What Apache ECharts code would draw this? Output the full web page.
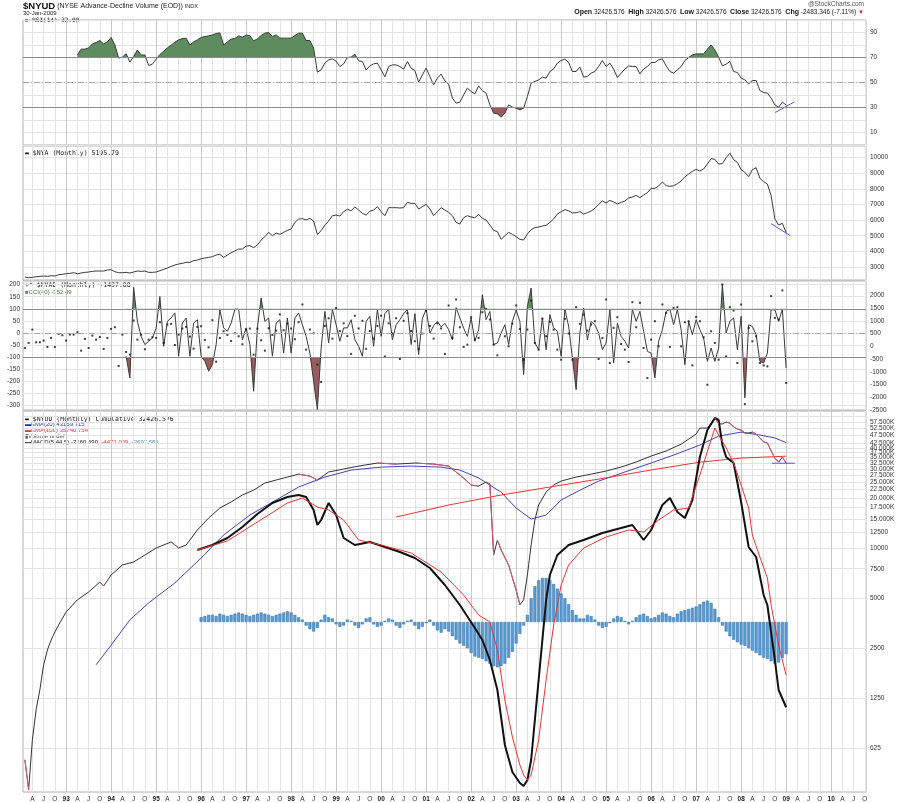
<!DOCTYPE html>
<html><head><meta charset="utf-8">
<script src="https://cdn.jsdelivr.net/npm/echarts/dist/echarts.min.js"></script>
<style>html,body{margin:0;padding:0;background:#fff}#c{width:900px;height:803px}</style>
</head><body><div id="c"></div><script>
// month index: 0 = Jan 1992 ... 204 = Jan 2009 (data begins Feb 1992)
const rsiStart = 15;
const rsi = [72.1,76.7,76.7,77.7,80.9,82,83.6,80.9,82.5,86,80,69.5,70.3,73,66.3,70.8,76,72,72,63.6,64.7,68.7,72.4,75,77.7,79.9,82.3,84.1,85.2,85.5,80,82.5,84.1,86,86.8,87.3,88.1,89.2,89.7,80,82.5,84.7,85.2,87.3,86.3,87.9,87.6,83.3,84.9,87.6,89.5,90,86.8,88.1,85.5,85.5,85.5,85.5,87.6,89.5,89.5,83.6,83.6,77.5,58.3,60.1,65.5,68.1,68.9,67.1,62.8,64.9,70,70.3,72.7,67.3,66.8,60.1,63.3,64.9,65.5,60.1,54.5,62.8,64.1,64.1,62.8,60.7,66.8,61.5,59.6,50.3,56.1,61.5,54.8,48.1,53.5,56.7,51.3,48.7,37.5,33.5,34.3,40.1,45.5,42.8,40.9,47.3,43.5,41.5,32.1,25.5,24.9,22.3,25.5,32.1,30.3,29.5,28.1,29.5,38.8,49.5,50.8,52.1,54.3,53.5,58.8,60.9,65.5,67.6,68.7,66,58.8,58.8,62.3,54.3,54.8,57.5,58.8,62.8,67.6,62.8,65.5,60.7,54,57.5,60.7,63.3,62.8,62.8,56.9,60.7,62.8,66,66,68.1,68.9,63.3,58.8,57.5,60.1,62.8,67.6,70,72.1,72.9,72.9,72.9,76.7,80.1,76.1,70.3,63.3,64.7,66.8,58.8,58,53.5,52.1,48.9,51.6,51.6,43.6,42,41.5,37.5,32.1,30.3,34.3,32];
const nyaStart = 1;
const nya = [2352,2309,2330,2373,2394,2416,2394,2437,2416,2501,2522,
2565,2587,2629,2565,2608,2651,2672,2715,2736,2736,2736,2800,
2822,2693,2629,2629,2651,2608,2672,2736,2715,2736,2651,2651,
2672,2758,2843,2929,3035,3121,3185,3228,3292,3292,3399,3441,
3527,3570,3612,3655,3762,3805,3612,3762,3912,4018,4146,4146,
4339,4360,4232,4403,4723,4937,5215,5001,5172,5087,5215,5343,
5429,5856,6070,6091,6006,6113,5942,5087,5322,5685,5942,6284,
6326,6262,6540,6690,6604,6839,6647,6433,6326,6562,6647,6861,
6540,6284,6797,6797,6797,6775,6797,7138,7074,7074,6711,6861,
7010,6711,6284,6540,6797,6647,6497,6284,5856,5749,6155,6284,
6198,6155,6369,6113,6006,5685,5343,5258,4766,5001,5215,5087,
4937,4766,4723,5108,5386,5514,5557,5621,5664,5856,6070,6391,
6540,6668,6604,6455,6476,6540,6391,6476,6583,6754,7010,7224,
7096,7267,7160,7032,7138,7224,7416,7480,7587,7438,7609,7758,
8036,8036,8186,8442,8207,8164,8207,8335,8506,8763,8955,9126,
9254,9147,9275,9596,9938,9895,9596,9617,10002,10280,9874,9703,
9233,9062,8784,9233,9361,8677,8463,8314,7566,6070,5685,5792,5196];
const cciStart = 28;
const cci = [-96,-186,189,48,-14,-48,-34,-21,20,151,-55,48,62,83,-96,41,62,-96,41,55,
-96,-117,-158,-131,-48,96,21,7,41,98,98,-28,21,-48,-241,21,145,48,62,-96,
41,55,-83,62,-83,62,83,34,-14,-83,-200,-316,-62,89,-41,98,34,-34,21,21,
55,-28,-55,-96,48,69,-55,98,-14,80,98,-28,34,55,80,98,-48,80,-89,60,
98,0,30,48,25,40,14,
-28,105,62,20,-14,62,-34,14,158,55,89,-48,-41,0,34,-48,48,95,48,-172,
110,186,-41,-69,62,-69,76,21,7,-96,98,28,-103,-234,0,103,-28,48,34,0,
-69,-41,98,-124,41,-14,-34,-62,98,48,89,7,-76,-83,-186,-34,14,89,98,34,
98,14,-131,48,-7,55,14,-21,-117,-62,-117,-62,200,0,48,62,-69,69,-268,34,
27,-7,-117,-124,-83,96,96,48,98,-145];
const nyadStart = 1;
const nyad = [-66,131,656,157,157,223,-26,328,-26,485,433,223,459,459,551,-171,289,-66,420,262,
367,-105,328,682,748,-774,459,-223,-328,1010,262,459,-118,262,354,328,945,131,853,879,
52,459,695,761,380,-92,761,787,249,-39,1023,-603,328,590,446,210,512,394,79,656,
695,-328,695,
236,-171,708,446,616,1252,630,892,695,276,945,1640,-131,656,511,-721,-1400,800,1100,300,
1500,600,900,400,-300,1200,700,1000,-100,600,300,800,1200,-400,900,500,1100,-500,1000,1300,
600,200,-100,500,1400,800,300,900,700,-300,1600,
328,1837,748,-26,66,1141,262,328,1338,1469,1050,66,-354,null,394,0,892,1601,682,-525,
656,1797,131,-131,1089,394,958,656,-131,-525,1076,499,-525,1535,879,1246,617,853,984,-499,
328,1837,-656,722,1141,92,-131,-617,1732,748,1706,-66,-1246,262,984,0,1640,1312,-26,1509,
1535,0,945,984,-748,1155,984,354,-1509,590,131,-525,2427,-394,1535,1404,-656,1640,-2270,722,
197,394,-656,-748,-787,1968,1115,1050,2191,-1437];
const cumM = [1,2,3,4,5,6,7,8,9,10,12,15,18,21,22,24,27,30,33,36,40,42,44,47,50,53,56,59,62,65,68,71,74,77,79,82,86,90,95,100,105,110,114,116,118,120,122,124,125,126,127,128,130,132,133,134,135,136,137,138,140,142,144,148,152,156,160,164,168,172,176,180,181,183,185,186,187,188,189,190,191,192,193,194,195,196,197,198,199,200,201,202,203,204];
const cumV = [530,350,700,1060,1400,1980,2430,2790,3120,3440,4120,4870,5430,6240,5900,6880,7900,8240,9070,10000,10870,10000,10420,12840,15150,17410,18940,20850,22300,24620,25670,26740,27860,27100,25670,28690,29900,31150,32490,32030,32490,32030,31150,28690,26390,23930,23600,24960,24290,9070,11170,9720,7900,5580,4540,4870,6880,10420,14750,18150,21740,23930,25310,26740,27860,29080,30740,32950,35790,38420,42220,48580,52780,52780,60630,55900,55900,57400,56500,53620,52000,51340,49250,49250,49950,48560,45950,43580,42920,38420,34820,32900,35300,32427];
const ema20M = [20,24,29,34,41,48,54,61,68,74,81,88,96,104,112,117,122,128,132,136,140,144,149,154,161,168,174,181,186,192,197,201,204];
const ema20V = [1980,2600,3690,4670,6160,8700,11970,15800,19450,23300,26740,29480,30700,31150,30700,29480,26400,21700,17400,14950,15800,19450,22300,25300,28700,32500,36300,41700,47200,49900,47900,46000,43160];
const ema100M = [100,114,128,141,154,168,181,192,204];
const ema100V = [15370,18150,20850,23300,26000,29500,32900,34800,35740];
const macdM = [47,51,55,59,63,67,71,74,76,78,79,80,82,84,86,89,93,97,101,105,109,113,117,121,123,125,127,129,131,133,134,135,136,137,138,139,140,141,143,146,150,155,160,163,166,168,171,173,175,177,179,181,183,185,186,187,188,190,192,194,196,198,199,201,202,204];
const macdV = [6048,6468,7056,7980,9072,9996,10500,10668,10500,9408,8148,8568,9996,8988,7056,6468,6720,6300,5880,5376,4536,3108,1428,-504,-1512,-3192,-5712,-10332,-12600,-13524,-13776,-13272,-11592,-8232,-4872,-1512,1848,3948,5628,6468,6888,7476,7896,8148,6888,7728,9828,10416,9240,8736,10248,13860,16128,17136,16968,14868,13860,13356,10080,6300,5460,2268,1428,-3192,-5712,-7161];
const sigM = [47,55,63,71,75,79,82,86,90,96,104,112,118,122,125,127,129,131,133,134,135,136,138,140,142,144,146,150,156,162,166,170,174,178,181,185,186,188,190,192,194,195,197,199,200,202,204];
const sigV = [6048,6804,8400,9996,10416,9660,9408,8568,6888,6468,5796,4200,2268,588,0,-2352,-6552,-9660,-12012,-12852,-13272,-12852,-9912,-4872,-252,3108,4788,6216,7140,7728,7560,8568,9408,9576,12348,16296,15708,14616,13356,11508,9576,7308,5460,3696,1428,-1932,-4471];
const histStart = 48;
const hist = [400,500,600,600,500,700,600,500,600,700,800,700,600,500,600,700,800,700,600,500,600,700,800,900,800,600,400,200,
-300,-600,-800,-500,200,600,400,
300,-200,-400,-300,200,100,-300,-500,-200,300,400,-200,-400,-300,100,300,200,-300,-500,-200,100,200,-300,-600,-400,-100,200,-300,-700,-900,-600,
-800,-1200,-1500,-1800,-2000,
-2200,-2600,-2900,-3000,-3100,-3300,-3500,-3700,-3800,-3700,-3500,-3000,-2500,-1800,-1000,-300,600,2000,3000,3500,3700,3700,3500,3200,2800,2400,2000,1500,1000,600,300,
300,600,500,200,-300,-500,-400,-100,300,500,400,100,-200,100,400,600,700,500,300,400,
600,800,700,500,400,700,900,1000,1100,1200,1300,1500,1700,1800,1600,1100,400,
-300,-800,-1200,-1500,-1700,-1900,-2000,-2200,-2400,-2600,-2800,-3000,-3100,-3300,-3500,-3400,-3000,-2697];
// trend lines drawn on the chart
const rsiTrend = [[201.1,26],[206.2,34.5]];
const nyaTrend = [[200,5771],[205.1,5001]];
const cumTrend = [[200.2,32400],[206.3,32400]];
// tick values
const rsiTicks = [10,30,50,70,90];
const nyaTicks = [3000,4000,5000,6000,7000,8000,9000,10000];
const cciTicks = [-300,-250,-200,-150,-100,-50,0,50,100,150,200];
const nyadTicks = [-2500,-2000,-1500,-1000,-500,0,500,1000,1500,2000];
const logTicks = [625,1250,2500,5000,7500,10000,12500,15000,17500,20000,22500,25000,27500,30000,32500,35000,37500,40000,42500,47500,52500,57500,62500];
const quarterLetters = {3:'A',6:'J',9:'O'};
const monthTicks = []; for (let m = 3; m <= 225; m += 3) monthTicks.push(m);

const pairs = (start, arr) => arr.map((v, i) => [start + i, v]);
const zip = (ms, vs) => ms.map((m, i) => [m, vs[i]]);
// falling segments of the cumulative line are drawn red
function downSegments(pts) {
  const out = [];
  for (let i = 1; i < pts.length; i++) {
    if (pts[i][1] < pts[i-1][1]) {
      const last = out.length ? out[out.length - 1] : null;
      if (!last || last[0] !== pts[i-1][0]) {
        if (out.length) out.push([pts[i-1][0] - 0.01, null]);
        out.push(pts[i-1]);
      }
      out.push(pts[i]);
    }
  }
  return out;
}

const FONT = 'Liberation Sans';
const LINE = '#3a3a3a';
const GREEN = '#5e8c5e';
const RED = '#9a5c5c';
const L = 23, R = 34;

const grids = [
  {left:L, right:R, top:20, height:125},
  {left:L, right:R, top:146, height:134},
  {left:L, right:R, top:281, height:129},
  {left:L, right:R, top:411, height:381},
  {left:L, right:R, top:20, height:37.5},
  {left:L, right:R, top:107.5, height:37.5},
  {left:L, right:R, top:281, height:27.8},
  {left:L, right:R, top:357.2, height:52.8}
].map((g, i) => Object.assign({show: i < 4, borderColor:'#b0b0b0', borderWidth:1}, g));

function xAx(i, showLabels) {
  const main = i < 4;
  return {
    type:'value', gridIndex:i, min:0.5, max:225.3,
    axisLine:{show:false}, axisTick:{show:false, customValues: monthTicks},
    splitLine:{show: main, lineStyle:{color:['#e3e3e3','#e3e3e3','#e3e3e3','#c9c9c9'], width:1}},
    axisLabel:{show: showLabels, customValues: monthTicks, fontSize:6.5, fontFamily:FONT, color:'#333', margin:4,
      formatter: v => { const q = v % 12; if (q === 0) { const y = (92 + v/12) % 100; return '{b|' + String(y).padStart(2,'0') + '}'; } return quarterLetters[q]; },
      rich:{b:{fontWeight:'bold', fontSize:6.5, fontFamily:FONT, color:'#222'}}}
  };
}
const xAxes = [0,1,2,3,4,5,6,7].map(i => xAx(i, i === 3));

const lab = {fontSize:6.5, fontFamily:FONT, color:'#333', margin:4};
const plain = v => String(v);
const yAxes = [
  {type:'value', gridIndex:0, position:'right', min:0, max:100, interval:10,
    axisLine:{show:false}, axisTick:{show:false},
    axisLabel:Object.assign({formatter: v => rsiTicks.includes(v) ? String(v) : ''}, lab),
    splitLine:{lineStyle:{color:'#e3e3e3'}}},
  {type:'value', gridIndex:1, position:'right', min:2161, max:10750,
    axisLine:{show:false}, axisTick:{show:false, customValues:nyaTicks},
    axisLabel:Object.assign({customValues:nyaTicks, formatter:plain}, lab),
    splitLine:{lineStyle:{color:'#e3e3e3'}}},
  {type:'value', gridIndex:2, position:'left', min:-318.2, max:214.9,
    axisLine:{show:false}, axisTick:{show:false, customValues:cciTicks},
    axisLabel:Object.assign({customValues:cciTicks, formatter:plain}, lab, {margin:3}),
    splitLine:{lineStyle:{color:'#e3e3e3'}}},
  {type:'value', gridIndex:2, position:'right', min:-2500, max:2562,
    axisLine:{show:false}, axisTick:{show:false, customValues:nyadTicks},
    axisLabel:Object.assign({customValues:nyadTicks, formatter:plain}, lab),
    splitLine:{show:false}},
  {type:'log', logBase:2, gridIndex:3, position:'right', min:339, max:66870,
    axisLine:{show:false}, axisTick:{show:false, customValues:logTicks},
    axisLabel:Object.assign({customValues:logTicks, formatter: v => v >= 15000 ? (v/1000).toFixed(3) + 'K' : String(v)}, lab),
    splitLine:{lineStyle:{color:'#e3e3e3'}}},
  {type:'value', gridIndex:3, show:false, min:-14280, max:17724, splitLine:{show:false}},
  {type:'value', gridIndex:4, show:false, min:70, max:100},
  {type:'value', gridIndex:5, show:false, min:0, max:30},
  {type:'value', gridIndex:6, show:false, min:100, max:214.9},
  {type:'value', gridIndex:7, show:false, min:-318.2, max:-100}
];

const ml = (vals) => ({silent:true, symbol:'none', label:{show:false}, animation:false,
  data: vals.map(([v, dash]) => ({yAxis:v, lineStyle:{color: dash ? '#a8a8a8' : '#8c8c8c', width:1, type: dash ? [6,2,1,2] : 'solid'}}))});

const rsiData = pairs(rsiStart, rsi);
const cciData = pairs(cciStart, cci);
const cumData = zip(cumM, cumV);
const fillSeries = (data, xi, yi, color, origin) => ({type:'line', xAxisIndex:xi, yAxisIndex:yi, data, symbol:'none',
  lineStyle:{opacity:0, width:0}, areaStyle:{color, opacity:1, origin}, clip:true, silent:true, z:1});
const plainLine = (data, xi, yi, color, width, z) => ({type:'line', xAxisIndex:xi, yAxisIndex:yi, data, symbol:'none', lineStyle:{color, width}, z: z || 3});

const series = [
  fillSeries(rsiData, 4, 6, GREEN, 'start'),
  fillSeries(rsiData, 5, 7, RED, 'end'),
  Object.assign(plainLine(rsiData, 0, 0, LINE, 1), {markLine: ml([[70,false],[30,false],[50,true]])}),
  plainLine(rsiTrend, 0, 0, '#5555ee', 1, 4),
  plainLine(pairs(nyaStart, nya), 1, 1, LINE, 1),
  plainLine(nyaTrend, 1, 1, '#5555ee', 1, 4),
  fillSeries(cciData, 6, 8, GREEN, 'start'),
  fillSeries(cciData, 7, 9, RED, 'end'),
  Object.assign(plainLine(cciData, 2, 2, LINE, 1), {markLine: ml([[100,false],[-100,false],[0,true]])}),
  {type:'scatter', xAxisIndex:2, yAxisIndex:3, data:pairs(nyadStart, nyad).filter(p => p[1] !== null), symbol:'rect', symbolSize:2, itemStyle:{color:'#111'}, z:4},
  {type:'bar', xAxisIndex:3, yAxisIndex:5, data:pairs(histStart, hist), barWidth:3, itemStyle:{color:'#5b9bd5', borderColor:'#2d6ea6', borderWidth:0.5}, z:2},
  plainLine(cumData, 3, 4, '#333', 1),
  Object.assign(plainLine(downSegments(cumData), 3, 4, '#e05a6a', 1, 4), {connectNulls:false}),
  plainLine(zip(ema20M, ema20V), 3, 4, '#4444bb', 1),
  plainLine(zip(ema100M, ema100V), 3, 4, '#ee3333', 1),
  plainLine(cumTrend, 3, 4, '#5555ee', 1, 5),
  plainLine(zip(macdM, macdV), 3, 5, '#111', 2),
  plainLine(zip(sigM, sigV), 3, 5, '#ee3333', 1)
];

const T = (left, top, text, style) => ({type:'text', left, top, silent:true, style:Object.assign({text, fontFamily:FONT, fontSize:7, fill:'#222'}, style||{})});
const graphic = [
  T(23, 1.5, '{b|$NYUD} (NYSE Advance-Decline Volume (EOD)) {s|INDX}', {rich:{b:{fontWeight:'bold', fontSize:9.5, fontFamily:FONT, fill:'#111'}, s:{fontSize:5.5, fontFamily:FONT}}}),
  T(23, 10.5, '30-Jan-2009', {fontSize:6}),
  {type:'text', right:36, top:1, silent:true, style:{text:'@StockCharts.com', fontFamily:FONT, fontSize:6.5, fill:'#555'}},
  {type:'text', right:36, top:9, silent:true, style:{text:'{b|Open} 32426.576  {b|High} 32426.576  {b|Low} 32426.576  {b|Close} 32426.576  {b|Chg} -2483.346 (-7.11%) {r|▼}', fontFamily:FONT, fontSize:6.5, fill:'#222',
    rich:{b:{fontWeight:'bold', fontSize:7, fontFamily:FONT, fill:'#111'}, r:{fill:'#dd2222', fontSize:6}}}},
  T(25, 17, '{g|■} RSI(14) 32.00', {fontFamily:'DejaVu Sans Mono', fontSize:6, rich:{g:{fill:GREEN, fontSize:6}}}),
  T(25, 150, '▬ $NYA (Monthly) 5195.79', {fontFamily:'DejaVu Sans Mono', fontSize:6.5}),
  T(25, 282, '+* $NYAD (Monthly) -1437.00', {fontFamily:'DejaVu Sans Mono', fontSize:6.5}),
  T(25, 289, '{g|■}CCI(40) -352.49', {fontSize:6, fill:'#3c7a3c', rich:{g:{fill:GREEN, fontSize:6}}}),
  T(25, 415.5, '▬ $NYUD (Monthly) Cumulative 32426.576', {fontFamily:'DejaVu Sans Mono', fontSize:6.5}),
  T(25, 421.5, '{k|▬}EMA(20) 43159.715', {fontSize:6, fill:'#3333aa', rich:{k:{fill:'#3333aa'}}}),
  T(25, 427.5, '{k|▬}EMA(100) 35740.754', {fontSize:6, fill:'#ee3333', rich:{k:{fill:'#ee3333'}}}),
  T(25, 433.5, '▮Volume undef', {fontSize:6, fill:'#555'}),
  T(25, 439.5, '▬MACD(5,44,5) -7160.590{r|, -4471.009,} {c|-2697.581}', {fontSize:6, fill:'#222', rich:{r:{fill:'#ee3333', fontSize:6}, c:{fill:'#4a90c8', fontSize:6}}})
];

const chart = echarts.init(document.getElementById('c'), null, {renderer:'canvas'});
chart.setOption({animation:false, backgroundColor:'#fff', grid:grids, xAxis:xAxes, yAxis:yAxes, series, graphic});
</script></body></html>
